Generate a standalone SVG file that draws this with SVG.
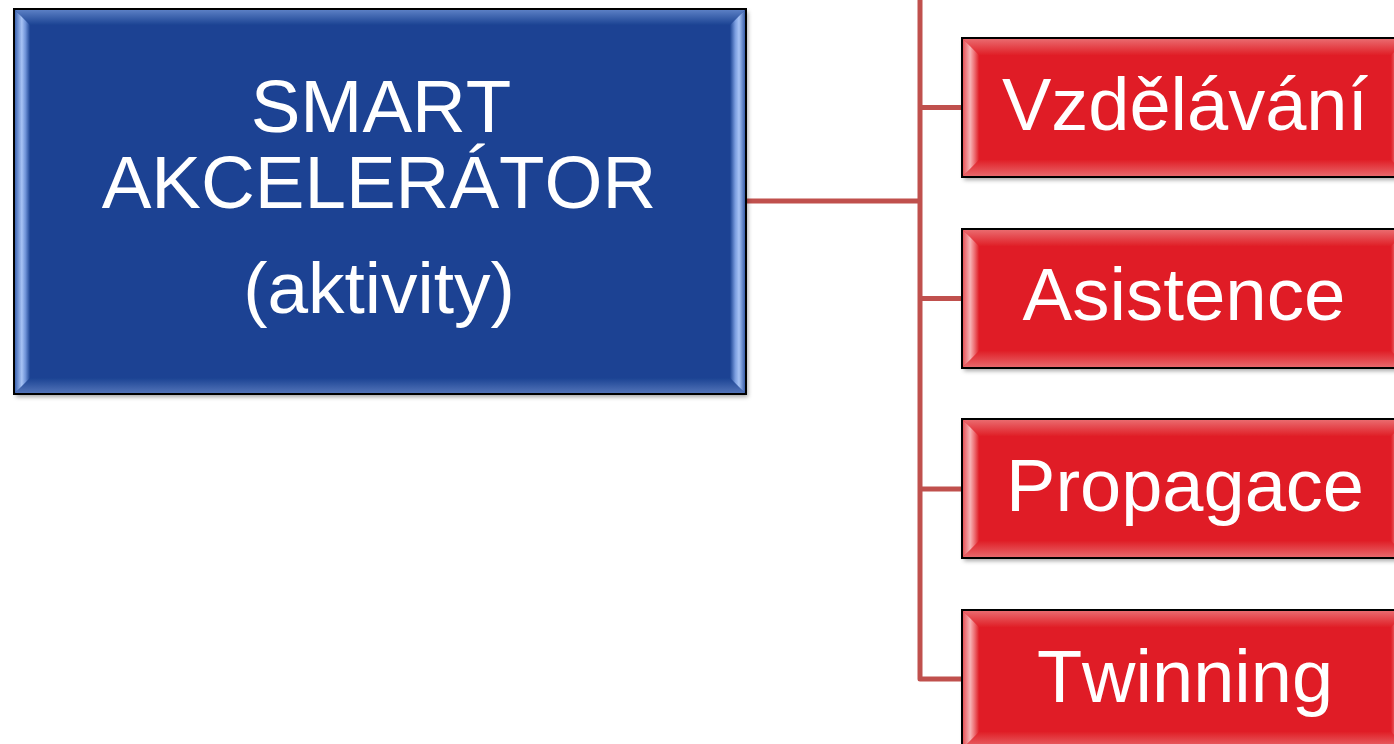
<svg xmlns="http://www.w3.org/2000/svg" width="1394" height="744" viewBox="0 0 1394 744">
<defs>
<filter id="sh" x="-5%" y="-5%" width="110%" height="115%">
<feDropShadow dx="2" dy="3" stdDeviation="2" flood-color="#000" flood-opacity="0.35"/>
</filter>
<linearGradient id="bTop" x1="0" y1="0" x2="0" y2="1"><stop offset="0" stop-color="#5b7fc4"/><stop offset="1" stop-color="#1b4393"/></linearGradient>
<linearGradient id="bBot" x1="0" y1="0" x2="0" y2="1"><stop offset="0" stop-color="#1b4393"/><stop offset="1" stop-color="#5273b8"/></linearGradient>
<linearGradient id="bLeft" x1="0" y1="0" x2="1" y2="0"><stop offset="0" stop-color="#3f66b2"/><stop offset="0.45" stop-color="#a7c3f5"/><stop offset="0.7" stop-color="#6f93d8"/><stop offset="1" stop-color="#1b4393"/></linearGradient>
<linearGradient id="bRight" x1="0" y1="0" x2="1" y2="0"><stop offset="0" stop-color="#1b4393"/><stop offset="0.35" stop-color="#7a9ddf"/><stop offset="0.6" stop-color="#a7c3f5"/><stop offset="1" stop-color="#3a5fa8"/></linearGradient>
<linearGradient id="rTop" x1="0" y1="0" x2="0" y2="1"><stop offset="0" stop-color="#ea6a6e"/><stop offset="1" stop-color="#e01f27"/></linearGradient>
<linearGradient id="rBot" x1="0" y1="0" x2="0" y2="1"><stop offset="0" stop-color="#e01f27"/><stop offset="1" stop-color="#e8676b"/></linearGradient>
<linearGradient id="rLeft" x1="0" y1="0" x2="1" y2="0"><stop offset="0" stop-color="#e8555a"/><stop offset="0.45" stop-color="#f7b3b5"/><stop offset="0.7" stop-color="#ee7377"/><stop offset="1" stop-color="#e01f27"/></linearGradient>
<linearGradient id="rRight" x1="0" y1="0" x2="1" y2="0"><stop offset="0" stop-color="#e01f27"/><stop offset="0.35" stop-color="#ee7377"/><stop offset="0.6" stop-color="#f7b3b5"/><stop offset="1" stop-color="#e8555a"/></linearGradient>
</defs>
<style>
.lbl{font-family:"Liberation Sans",Arial,sans-serif;fill:#fff;text-anchor:middle;font-kerning:none}
.conn{fill:none;stroke:#c0504d;stroke-width:5;stroke-linejoin:round}
.edge{fill:none;stroke:#000;stroke-width:2}
</style>
<g id="connectors">
<path class="conn" d="M746,201 H920"/>
<path class="conn" d="M920,0 V679 H962"/>
<path class="conn" d="M920,107.5 H962"/>
<path class="conn" d="M920,298.5 H962"/>
<path class="conn" d="M920,489 H962"/>
</g>
<g id="node-main">
<rect x="14" y="9" width="732" height="385" fill="#1b4393" filter="url(#sh)"/>
<polygon points="15,10 745,10 730,25 30,25" fill="url(#bTop)"/>
<polygon points="15,393 745,393 730,378 30,378" fill="url(#bBot)"/>
<polygon points="15,10 30,25 30,378 15,393" fill="url(#bLeft)"/>
<polygon points="745,10 730,25 730,378 745,393" fill="url(#bRight)"/>
<rect class="edge" x="14" y="9" width="732" height="385"/>
<text class="lbl" x="381" y="132" font-size="74.5">SMART</text>
<text class="lbl" x="379" y="208" font-size="74.5">AKCELERÁTOR</text>
<text class="lbl" x="379" y="313" font-size="73">(aktivity)</text>
</g>
<g id="node-vzdelavani" transform="translate(962,38)">
<rect x="0" y="0" width="446" height="139" fill="#e01f27" filter="url(#sh)"/>
<polygon points="1,1 445,1 429,17 17,17" fill="url(#rTop)"/>
<polygon points="1,138 445,138 429,122 17,122" fill="url(#rBot)"/>
<polygon points="1,1 17,17 17,122 1,138" fill="url(#rLeft)"/>
<polygon points="445,1 429,17 429,122 445,138" fill="url(#rRight)"/>
<rect class="edge" x="0" y="0" width="446" height="139"/>
<text class="lbl" x="223" y="92" font-size="74">Vzdělávání</text>
</g>
<g id="node-asistence" transform="translate(962,229)">
<rect x="0" y="0" width="446" height="139" fill="#e01f27" filter="url(#sh)"/>
<polygon points="1,1 445,1 429,17 17,17" fill="url(#rTop)"/>
<polygon points="1,138 445,138 429,122 17,122" fill="url(#rBot)"/>
<polygon points="1,1 17,17 17,122 1,138" fill="url(#rLeft)"/>
<polygon points="445,1 429,17 429,122 445,138" fill="url(#rRight)"/>
<rect class="edge" x="0" y="0" width="446" height="139"/>
<text class="lbl" x="222" y="91" font-size="74.5">Asistence</text>
</g>
<g id="node-propagace" transform="translate(962,419)">
<rect x="0" y="0" width="446" height="139" fill="#e01f27" filter="url(#sh)"/>
<polygon points="1,1 445,1 429,17 17,17" fill="url(#rTop)"/>
<polygon points="1,138 445,138 429,122 17,122" fill="url(#rBot)"/>
<polygon points="1,1 17,17 17,122 1,138" fill="url(#rLeft)"/>
<polygon points="445,1 429,17 429,122 445,138" fill="url(#rRight)"/>
<rect class="edge" x="0" y="0" width="446" height="139"/>
<text class="lbl" x="223" y="92" font-size="74">Propagace</text>
</g>
<g id="node-twinning" transform="translate(962,610)">
<rect x="0" y="0" width="446" height="139" fill="#e01f27" filter="url(#sh)"/>
<polygon points="1,1 445,1 429,17 17,17" fill="url(#rTop)"/>
<polygon points="1,138 445,138 429,122 17,122" fill="url(#rBot)"/>
<polygon points="1,1 17,17 17,122 1,138" fill="url(#rLeft)"/>
<polygon points="445,1 429,17 429,122 445,138" fill="url(#rRight)"/>
<rect class="edge" x="0" y="0" width="446" height="139"/>
<text class="lbl" x="223" y="92" font-size="74">Twinning</text>
</g>
</svg>
